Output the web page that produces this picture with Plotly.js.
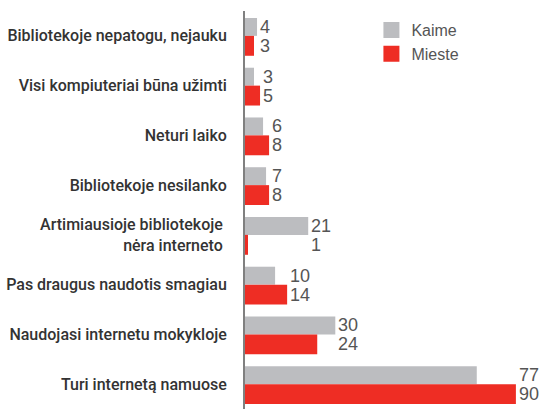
<!DOCTYPE html>
<html>
<head>
<meta charset="utf-8">
<script src="https://cdn.plot.ly/plotly-3.0.1.min.js"></script>
<style>html,body{margin:0;padding:0;background:#fff;}#chart{width:552px;height:410px;}</style>
</head>
<body>
<div id="chart"></div>
<script>
const categories = [
  "Bibliotekoje nepatogu, nejauku",
  "Visi kompiuteriai būna užimti",
  "Neturi laiko",
  "Bibliotekoje nesilanko",
  "Artimiausioje bibliotekoje\u00a0<br>nėra interneto\u00a0",
  "Pas draugus naudotis smagiau",
  "Naudojasi internetu mokykloje",
  "Turi internetą namuose"
];
const kaime = [4, 3, 6, 7, 21, 10, 30, 77];
const mieste = [3, 5, 8, 8, 1, 14, 24, 90];
const seriesNames = ["Kaime", "Mieste"];

const GRAY = "#bcbdc0";
const RED = "#ee2d24";
const LABEL_FONT = '"Roboto", "Liberation Sans", sans-serif';
const VALUE_FONT = '"Liberation Sans", "Roboto", sans-serif';

const grayW = 0.36, redW = 0.40;

const traces = [
  {type: "bar", orientation: "h", y: categories, x: kaime, name: seriesNames[0],
   marker: {color: GRAY}, width: grayW, offset: -grayW, showlegend: false, hoverinfo: "x"},
  {type: "bar", orientation: "h", y: categories, x: mieste, name: seriesNames[1],
   marker: {color: RED}, width: redW, offset: 0, showlegend: false, hoverinfo: "x"},
  {type: "scatter", mode: "markers", x: [null], y: [null], name: seriesNames[0],
   marker: {color: GRAY, symbol: "square", size: 17}, showlegend: true},
  {type: "scatter", mode: "markers", x: [null], y: [null], name: seriesNames[1],
   marker: {color: RED, symbol: "square", size: 17}, showlegend: true}
];

const annotations = [];
categories.forEach((c, i) => {
  const m = Math.max(kaime[i], mieste[i]);
  annotations.push({x: m, y: i - grayW / 2, xref: "x", yref: "y", text: String(kaime[i]),
    showarrow: false, xanchor: "left", yanchor: "middle", xshift: 1,
    font: {family: VALUE_FONT, size: 18, color: "#555555"}});
  annotations.push({x: m, y: i + redW / 2, xref: "x", yref: "y", text: String(mieste[i]),
    showarrow: false, xanchor: "left", yanchor: "middle", xshift: 1,
    font: {family: VALUE_FONT, size: 18, color: "#555555"}});
});

const layout = {
  width: 552, height: 410,
  margin: {l: 245, r: 6, t: 11, b: 1, pad: 0},
  paper_bgcolor: "#ffffff", plot_bgcolor: "#ffffff",
  showlegend: true,
  legend: {x: 0.42, y: 0.995, xanchor: "left", yanchor: "top",
    font: {family: VALUE_FONT, size: 16, color: "#555555"}, bgcolor: "rgba(0,0,0,0)"},
  xaxis: {range: [0, 100], showgrid: false, zeroline: false, showticklabels: false,
    showline: false, fixedrange: true},
  yaxis: {type: "category", categoryorder: "array", categoryarray: categories,
    range: [7.5, -0.5], showgrid: false, zeroline: false,
    showline: true, linecolor: "#808080", linewidth: 2,
    ticks: "outside", ticklen: 13, tickcolor: "rgba(0,0,0,0)",
    tickfont: {family: LABEL_FONT, size: 16, color: "#333333", weight: 500}},
  annotations: annotations
};

Plotly.newPlot("chart", traces, layout, {displayModeBar: false, staticPlot: true});
</script>
</body>
</html>
